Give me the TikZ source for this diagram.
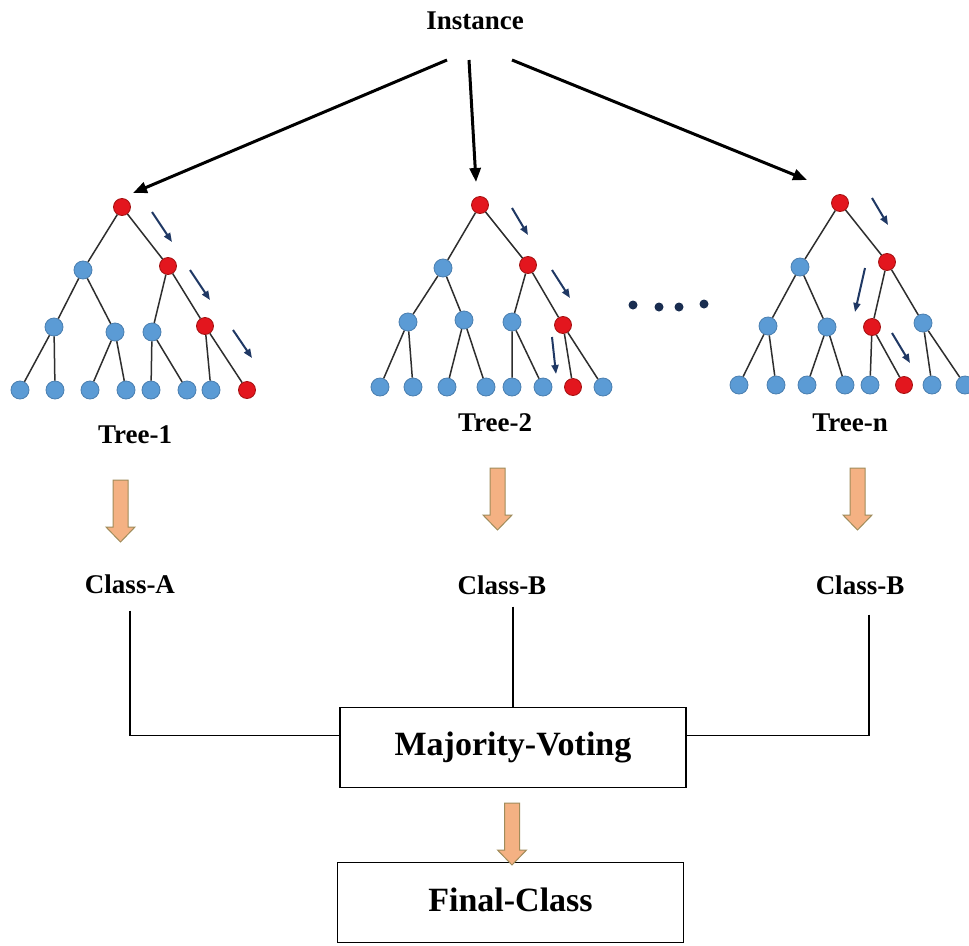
\documentclass[tikz,border=0pt]{standalone}
\usepackage{fontspec}
\setmainfont{Liberation Serif}
\usetikzlibrary{arrows.meta}
\definecolor{nodeblue}{HTML}{5B9BD5}
\definecolor{nodeblueline}{HTML}{4A7FB0}
\definecolor{nodered}{HTML}{E3161E}
\definecolor{noderedline}{HTML}{A51010}
\definecolor{edgegray}{HTML}{2E2E2E}
\definecolor{navy}{HTML}{1F3864}
\definecolor{orangefill}{HTML}{F4B183}
\definecolor{orangeline}{HTML}{A08C5B}
\newcommand{\orangedown}[4]{%
  \draw[blockarrow] (#1-7.5,#2) -- (#1+7.5,#2) -- (#1+7.5,#3) -- (#1+14.5,#3) -- (#1,#4) -- (#1-14.5,#3) -- (#1-7.5,#3) -- cycle;}
\begin{document}
\begin{tikzpicture}[x=1pt,y=-1pt,
  bn/.style={circle,fill=nodeblue,draw=nodeblueline,line width=0.8pt,minimum size=18pt,inner sep=0pt},
  rn/.style={circle,fill=nodered,draw=noderedline,line width=0.8pt,minimum size=17pt,inner sep=0pt},
  edge/.style={draw=edgegray,line width=1.5pt},
  lbl/.style={font=\fontsize{27}{30}\selectfont\bfseries,inner sep=0pt},
  bigbox/.style={draw,line width=1.5pt,minimum width=346pt,minimum height=80pt,inner sep=0pt,font=\fontsize{34}{38}\selectfont\bfseries},
  mainarrow/.style={line width=3pt,-{Triangle[length=14pt,width=11pt]}},
  walk/.style={draw=navy,line width=2pt,-{Triangle[length=9pt,width=7pt]}},
  blockarrow/.style={fill=orangefill,draw=orangeline,line width=1pt,line join=miter},
  link/.style={line width=1.3pt},
  dotn/.style={circle,fill=navy!80!black,inner sep=0pt,minimum size=9pt}
]
\useasboundingbox (0,0) rectangle (969,945);
\fill[white] (0,0) rectangle (969,945);

% Instance
\node[lbl] (inst) at (475,21) {Instance};
\coordinate (s1) at (447,60);
\coordinate (s2) at (469,60);
\coordinate (s3) at (512,60);
\coordinate (t1) at (133,193);
\coordinate (t2) at (476,182);
\coordinate (t3) at (807,180);
\draw[mainarrow] (s1) -- (t1);
\draw[mainarrow] (s2) -- (t2);
\draw[mainarrow] (s3) -- (t3);

% Tree 1
\node[rn] (r1) at (122,207) {};
\node[bn] (a1) at (83,270) {};
\node[rn] (b1) at (168,266) {};
\node[bn] (c1) at (54,327) {};
\node[bn] (d1) at (115,332) {};
\node[bn] (e1) at (152,332) {};
\node[rn] (f1) at (205,326) {};
\foreach \x [count=\i] in {20,55,90,126,151,187,211} \node[bn] (l1\i) at (\x,390) {};
\node[rn] (l18) at (247,390) {};
\draw[edge] (r1)--(a1) (r1)--(b1) (a1)--(c1) (a1)--(d1) (b1)--(e1) (b1)--(f1)
  (c1)--(l11) (c1)--(l12) (d1)--(l13) (d1)--(l14) (e1)--(l15) (e1)--(l16) (f1)--(l17) (f1)--(l18);
\draw[walk] (152,212) -- (172,242);
\draw[walk] (190,270) -- (210,300);
\draw[walk] (233,330) -- (252,358);

% Tree 2
\node[rn] (r2) at (480,205) {};
\node[bn] (a2) at (443,268) {};
\node[rn] (b2) at (528,265) {};
\node[bn] (c2) at (408,322) {};
\node[bn] (d2) at (464,320) {};
\node[bn] (e2) at (512,322) {};
\node[rn] (f2) at (563,325) {};
\foreach \x [count=\i] in {380,413,447,486,512,543} \node[bn] (l2\i) at (\x,387) {};
\node[rn] (l27) at (573,387) {};
\node[bn] (l28) at (603,387) {};
\draw[edge] (r2)--(a2) (r2)--(b2) (a2)--(c2) (a2)--(d2) (b2)--(e2) (b2)--(f2)
  (c2)--(l21) (c2)--(l22) (d2)--(l23) (d2)--(l24) (e2)--(l25) (e2)--(l26) (f2)--(l27) (f2)--(l28);
\draw[walk] (512,208) -- (528,235);
\draw[walk] (552,270) -- (570,298);
\draw[walk] (552,337) -- (556,374);

% dots
\node[dotn] (dt1) at (633,305) {};
\node[dotn] (dt2) at (659,307) {};
\node[dotn] (dt3) at (679,307) {};
\node[dotn] (dt4) at (704,304) {};

% Tree n
\node[rn] (r3) at (840,203) {};
\node[bn] (a3) at (800,267) {};
\node[rn] (b3) at (887,262) {};
\node[bn] (c3) at (768,326) {};
\node[bn] (d3) at (827,327) {};
\node[rn] (e3) at (872,327) {};
\node[bn] (f3) at (923,323) {};
\foreach \x [count=\i] in {739,776,807,845,870} \node[bn] (l3\i) at (\x,385) {};
\node[rn] (l36) at (904,385) {};
\node[bn] (l37) at (932,385) {};
\node[bn] (l38) at (965,385) {};
\draw[edge] (r3)--(a3) (r3)--(b3) (a3)--(c3) (a3)--(d3) (b3)--(e3) (b3)--(f3)
  (c3)--(l31) (c3)--(l32) (d3)--(l33) (d3)--(l34) (e3)--(l35) (e3)--(l36) (f3)--(l37) (f3)--(l38);
\draw[walk] (872,198) -- (888,225);
\draw[walk] (865,268) -- (855,312);
\draw[walk] (892,333) -- (910,363);

% labels
\node[lbl] (tr1) at (135,435) {Tree-1};
\node[lbl] (tr2) at (495,423) {Tree-2};
\node[lbl] (trn) at (850,423) {Tree-n};

\orangedown{120.5}{480}{527}{542}
\orangedown{497.5}{468}{515}{530}
\orangedown{857.5}{468}{515}{530}

\node[lbl] (clA) at (130,584) {Class-A};
\node[lbl] (clB) at (502,585) {Class-B};
\node[lbl] (clN) at (860,585) {Class-B};

% boxes
\node[bigbox] (mv) at (513,747.5) {Majority-Voting};
\node[bigbox] (fc) at (510.5,902.5) {\raisebox{6pt}{Final-Class}};

\orangedown{512}{803}{850}{865}

% connectors
\draw[link] ([yshift=-17pt]clA.south) |- ([yshift=12pt]mv.west);
\draw[link] ([yshift=-12pt]clB.south -| mv.north) -- (mv.north);
\draw[link] ([xshift=9pt,yshift=-20pt]clN.south) |- ([yshift=12pt]mv.east);
\end{tikzpicture}
\end{document}
